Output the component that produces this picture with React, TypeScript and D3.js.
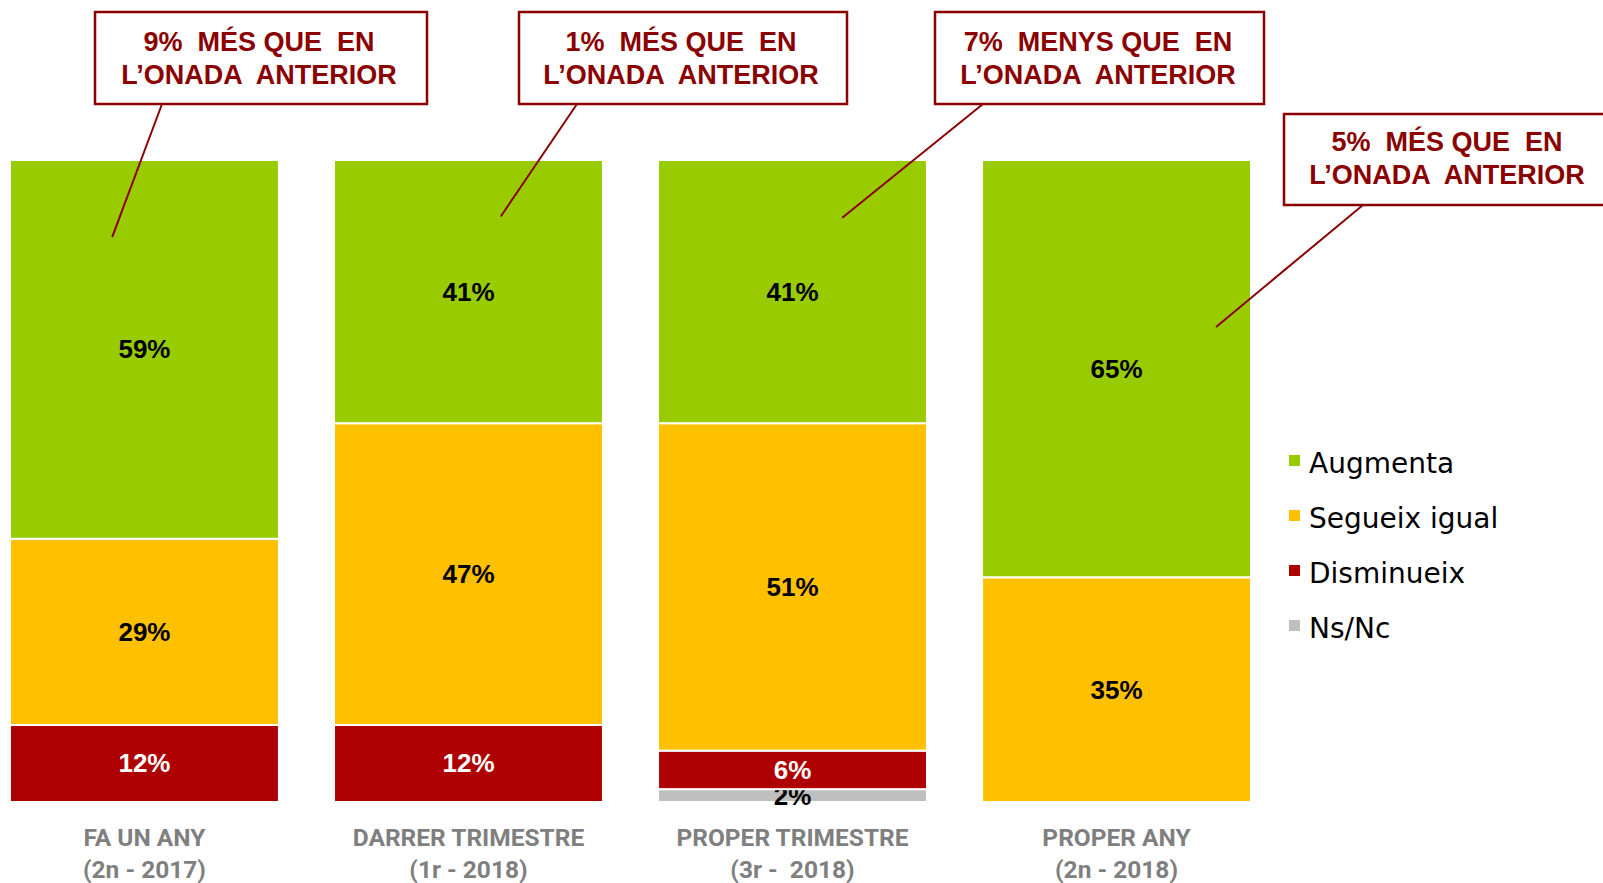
import React from "react";
import * as d3 from "d3";

const categories = ["FA UN ANY|(2n - 2017)", "DARRER TRIMESTRE|(1r - 2018)", "PROPER TRIMESTRE|(3r -  2018)", "PROPER ANY|(2n - 2018)"];
const seriesKeys = ["Ns/Nc", "Disminueix", "Segueix igual", "Augmenta"];
const augmenta = [59, 41, 41, 65];
const segueix = [29, 47, 51, 35];
const disminueix = [12, 12, 6, 0];
const nsnc = [0, 0, 2, 0];
const legendOrder = ["Augmenta", "Segueix igual", "Disminueix", "Ns/Nc"];
const calloutLine1 = ["9%  MÉS QUE  EN", "1%  MÉS QUE  EN", "7%  MENYS QUE  EN", "5%  MÉS QUE  EN"];
const calloutLine2 = ["L’ONADA  ANTERIOR", "L’ONADA  ANTERIOR", "L’ONADA  ANTERIOR", "L’ONADA  ANTERIOR"];

const colors: Record<string, string> = {
  Augmenta: "#99CC00",
  "Segueix igual": "#FFC000",
  Disminueix: "#AE0000",
  "Ns/Nc": "#BFBFBF",
};
const labelColors: Record<string, string> = {
  Augmenta: "#000",
  "Segueix igual": "#000",
  Disminueix: "#fff",
  "Ns/Nc": "#000",
};

// annotation layout (box geometry + tip position relative to bar)
const calloutBoxes = [
  { x: 95, y: 12, w: 332, h: 92, tx: 259, base: 51, from: [162, 104], tipFrac: 0.38, tipVal: 88 },
  { x: 519, y: 12, w: 328, h: 92, tx: 681, base: 51, from: [577, 104], tipFrac: 0.62, tipVal: 91.2 },
  { x: 935, y: 12, w: 329, h: 92, tx: 1098, base: 51, from: [983, 104], tipFrac: 0.685, tipVal: 91 },
  { x: 1284, y: 114, w: 330, h: 91, tx: 1447, base: 151, from: [1363, 205], tipFrac: 0.87, tipVal: 74 },
];

export default function App() {
  const W = 1603, H = 883;
  const x = d3.scaleBand<string>().domain(categories).range([10, 1251]).paddingInner(0.17).paddingOuter(0);
  const y = d3.scaleLinear().domain([0, 100]).range([802, 160]);

  const rows = categories.map((c, i) => ({
    cat: c,
    "Augmenta": augmenta[i],
    "Segueix igual": segueix[i],
    "Disminueix": disminueix[i],
    "Ns/Nc": nsnc[i],
  }));
  const stack = d3.stack<any>().keys(seriesKeys)(rows);
  const bw = x.bandwidth();

  const redDark = "#8B0000";

  return (
    <svg width={W} height={H} style={{ position: "absolute", left: 0, top: 0, background: "#fff" }}>
      {stack.map((layer) => (
        <g key={layer.key}>
          {layer.map((d: any, i: number) => {
            const v = d[1] - d[0];
            if (v <= 0) return null;
            const x0 = x(categories[i])!;
            const y0 = y(d[1]);
            const y1 = y(d[0]);
            return (
              <g key={i}>
                <rect x={x0} y={y0} width={bw} height={y1 - y0} fill={colors[layer.key]} stroke="#fff" strokeWidth={2} />
                <text
                  x={x0 + bw / 2}
                  y={(y0 + y1) / 2 + 9}
                  textAnchor="middle"
                  fontFamily="'Liberation Sans', Arial, sans-serif"
                  fontWeight="bold"
                  fontSize={26}
                  fill={labelColors[layer.key]}
                >
                  {v}%
                </text>
              </g>
            );
          })}
        </g>
      ))}

      {categories.map((c) => {
        const [l1, l2] = c.split("|");
        const cx = x(c)! + bw / 2;
        return (
          <text key={c} textAnchor="middle" fontFamily="Roboto, sans-serif" fontWeight="bold" fontSize={24.5} fill="#7F7F7F" style={{ whiteSpace: "pre" }}>
            <tspan x={cx} y={846}>{l1}</tspan>
            <tspan x={cx} y={878}>{l2}</tspan>
          </text>
        );
      })}

      {calloutBoxes.map((b, i) => {
        const tipX = x(categories[i])! + bw * b.tipFrac;
        const tipY = y(b.tipVal);
        return (
          <g key={i}>
            <line x1={b.from[0]} y1={b.from[1]} x2={tipX} y2={tipY} stroke={redDark} strokeWidth={2} />
            <rect x={b.x} y={b.y} width={b.w} height={b.h} fill="#fff" stroke={redDark} strokeWidth={2.5} />
            <text textAnchor="middle" fontFamily="'Liberation Sans', Arial, sans-serif" fontWeight="bold" fontSize={27} fill={redDark} style={{ whiteSpace: "pre" }}>
              <tspan x={b.tx} y={b.base}>{calloutLine1[i]}</tspan>
              <tspan x={b.tx} y={b.base + 33}>{calloutLine2[i]}</tspan>
            </text>
          </g>
        );
      })}

      {legendOrder.map((k, i) => (
        <g key={k} transform={`translate(1289, ${455 + i * 55})`}>
          <rect x={0} y={0} width={11} height={11} fill={colors[k]} />
          <text x={20} y={18} fontFamily="'DejaVu Sans', sans-serif" fontSize={28} fill="#000">{k}</text>
        </g>
      ))}
    </svg>
  );
}
